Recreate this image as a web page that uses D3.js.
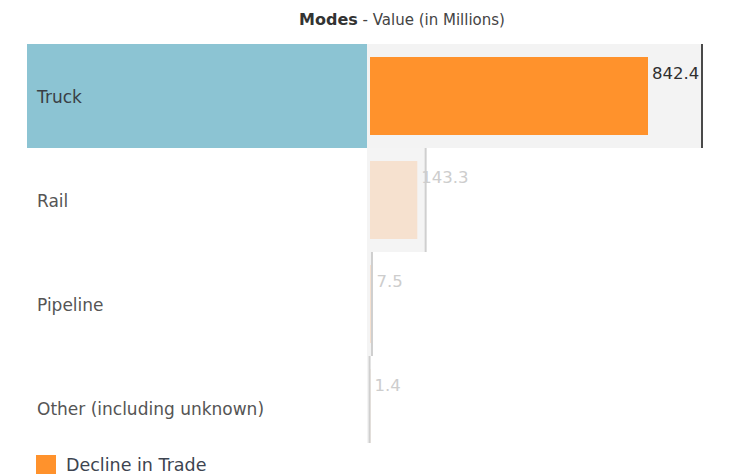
<!DOCTYPE html>
<html>
<head>
<meta charset="utf-8">
<script src="https://cdn.jsdelivr.net/npm/d3@7"></script>
<style>
  html, body { margin: 0; padding: 0; background: #fff; }
  svg { display: block; }
</style>
</head>
<body>
<svg id="chart" width="729" height="476"></svg>
<script>
// Decline in trade by transport mode, value in millions
const modes = ["Truck", "Rail", "Pipeline", "Other (including unknown)"];
const declineValues = [842.4, 143.3, 7.5, 1.4];
const selectedMode = "Truck";
const legendLabel = "Decline in Trade";

const svg = d3.select("#chart");
const W = 729, H = 476;

const labelFont = "'DejaVu Sans', Verdana, sans-serif";

// Rows
const y = d3.scaleBand().domain(modes).range([44, 460]).padding(0);
const rowH = y.bandwidth();
const plotBottom = 443;

// Bar length and the grey track behind each bar
const xBar = d3.scaleLinear().domain([0, d3.max(declineValues)]).range([370, 648]);
const xTrack = d3.scaleLinear().domain([0, d3.max(declineValues)]).range([369, 702]);

const rows = modes.map((m, i) => ({ mode: m, value: declineValues[i], selected: m === selectedMode }));

// Clip the plot at its bottom edge
svg.append("defs").append("clipPath").attr("id", "plotClip")
  .append("rect").attr("x", 0).attr("y", 40).attr("width", W).attr("height", plotBottom - 40);

const plot = svg.append("g").attr("clip-path", "url(#plotClip)");

// Title
const title = svg.append("text")
  .attr("x", 402).attr("y", 25)
  .attr("text-anchor", "middle")
  .attr("font-family", labelFont)
  .attr("font-size", 16)
  .attr("fill", "#333");
title.append("tspan").attr("font-weight", "bold").text("Modes");
title.append("tspan").attr("fill", "#444").attr("font-size", 15).text(" - Value (in Millions)");

// Highlight behind the selected row header
plot.selectAll("rect.rowhl")
  .data(rows.filter(d => d.selected))
  .join("rect")
  .attr("class", "rowhl")
  .attr("x", 27)
  .attr("y", d => y(d.mode))
  .attr("width", 367 - 27)
  .attr("height", rowH)
  .attr("fill", "#8cc4d3");

// Grey tracks
plot.selectAll("rect.track")
  .data(rows)
  .join("rect")
  .attr("class", "track")
  .attr("x", 367)
  .attr("y", d => y(d.mode))
  .attr("width", d => xTrack(d.value) - 367)
  .attr("height", rowH)
  .attr("fill", d => d.selected ? "#f3f3f3" : "#f4f4f4");

// Bars
plot.selectAll("rect.bar")
  .data(rows)
  .join("rect")
  .attr("class", "bar")
  .attr("x", xBar(0))
  .attr("y", d => y(d.mode) + 13)
  .attr("width", d => xBar(d.value) - xBar(0))
  .attr("height", rowH - 26)
  .attr("fill", d => d.selected ? "#ff922c" : "#f6e1cf");

// Track end markers
plot.selectAll("line.marker")
  .data(rows)
  .join("line")
  .attr("class", "marker")
  .attr("x1", d => xTrack(d.value))
  .attr("x2", d => xTrack(d.value))
  .attr("y1", d => y(d.mode))
  .attr("y2", d => y(d.mode) + rowH)
  .attr("stroke", d => d.selected ? "#4a4a4a" : "#cfcfcf")
  .attr("stroke-width", 2);

// Value labels
plot.selectAll("text.value")
  .data(rows)
  .join("text")
  .attr("class", "value")
  .attr("x", d => xBar(d.value) + 4)
  .attr("y", d => y(d.mode) + 29)
  .attr("dy", "0.35em")
  .attr("font-family", labelFont)
  .attr("font-size", 16.5)
  .attr("fill", d => d.selected ? "#2f2f2f" : "#cdcdcd")
  .text(d => d.value.toFixed(1));

// Row labels
plot.selectAll("text.rowlabel")
  .data(rows)
  .join("text")
  .attr("class", "rowlabel")
  .attr("x", 37)
  .attr("y", d => y(d.mode) + 53)
  .attr("dy", "0.35em")
  .attr("font-family", labelFont)
  .attr("font-size", 17)
  .attr("fill", d => d.selected ? "#3a3f45" : "#555")
  .text(d => d.mode);

// Legend
const legend = svg.append("g").attr("transform", "translate(36,455)");
legend.append("rect").attr("width", 20).attr("height", 19).attr("fill", "#ff922c");
legend.append("text")
  .attr("x", 30).attr("y", 10).attr("dy", "0.35em")
  .attr("font-family", labelFont)
  .attr("font-size", 17.5)
  .attr("fill", "#3d4450")
  .text(legendLabel);
</script>
</body>
</html>
